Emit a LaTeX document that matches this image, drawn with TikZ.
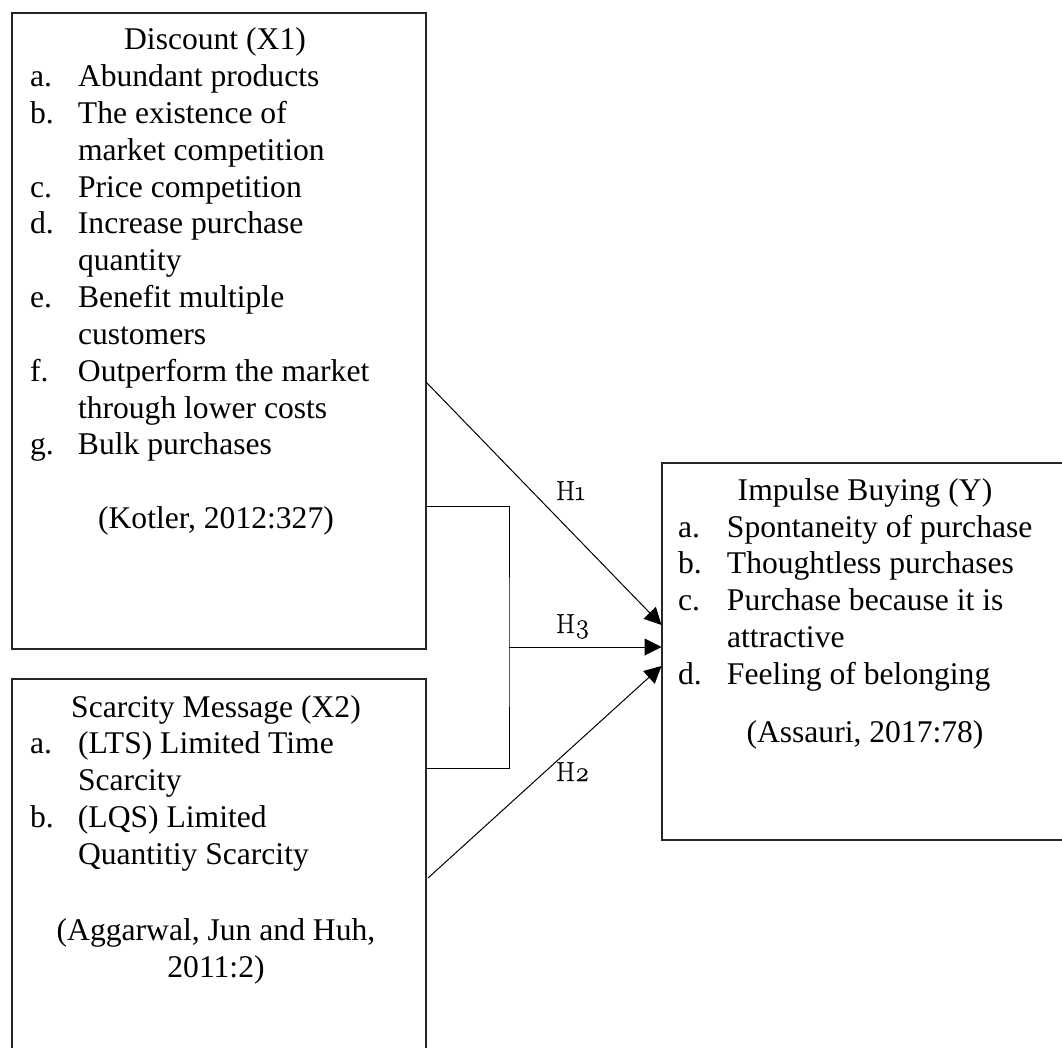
\documentclass[tikz,border=0pt]{standalone}
\usepackage{fontspec}
\setmainfont{Liberation Serif}
\newfontfamily\hfont{Latin Modern Roman}[Numbers=OldStyle,FakeBold=0.6]
\usetikzlibrary{arrows.meta,calc}
\newcommand{\lab}[1]{\makebox[48pt][l]{#1}}
\begin{document}
\begin{tikzpicture}[x=1pt,y=-1pt,
  box/.style={draw=black!85,line width=1.2pt,rectangle,inner sep=0pt,outer sep=0pt,anchor=north west},
  txt/.style={inner sep=0pt,outer sep=0pt,font=\fontsize{31.6}{36.8}\selectfont},
  hl/.style={inner sep=0pt,outer sep=0pt,anchor=base west,font=\hfont\fontsize{27.5}{30}\selectfont},
  con/.style={draw=black,line width=1pt},
  arr/.style={con,-{Triangle[length=17pt,width=17pt]}}]
\useasboundingbox (0,0) rectangle (1062,1048);
\clip (0,0) rectangle (1062,1048);
% boxes
\node[box,minimum width=414pt,minimum height=636pt] (x1) at (12,13) {};
\node[box,minimum width=414pt,minimum height=400pt] (x2) at (12,679) {};
\node[box,minimum width=406pt,minimum height=377pt] (y) at (662,463) {};
% X1 text
\node[txt,anchor=base] (x1t) at (215,50) {Discount (X1)};
\node[txt,anchor=base west] (x1a) at (30,86.8) {\lab{a.}Abundant products};
\node[txt,anchor=base west] (x1b) at (30,123.6) {\lab{b.}The existence of};
\node[txt,anchor=base west] (x1b2) at (78,160.4) {market competition};
\node[txt,anchor=base west] (x1c) at (30,197.2) {\lab{c.}Price competition};
\node[txt,anchor=base west] (x1d) at (30,234) {\lab{d.}Increase purchase};
\node[txt,anchor=base west] (x1d2) at (78,270.8) {quantity};
\node[txt,anchor=base west] (x1e) at (30,307.6) {\lab{e.}Benefit multiple};
\node[txt,anchor=base west] (x1e2) at (78,344.4) {customers};
\node[txt,anchor=base west] (x1f) at (30,381.2) {\lab{f.}Outperform the market};
\node[txt,anchor=base west] (x1f2) at (78,418) {through lower costs};
\node[txt,anchor=base west] (x1g) at (30,454.8) {\lab{g.}Bulk purchases};
\node[txt,anchor=base] (x1s) at (216,528.4) {(Kotler, 2012:327)};
% X2 text
\node[txt,anchor=base] (x2t) at (216,717) {Scarcity Message (X2)};
\node[txt,anchor=base west] (x2a) at (30,753.8) {\lab{a.}(LTS) Limited Time};
\node[txt,anchor=base west] (x2a2) at (78,790.6) {Scarcity};
\node[txt,anchor=base west] (x2b) at (30,827.4) {\lab{b.}(LQS) Limited};
\node[txt,anchor=base west] (x2b2) at (78,864.2) {Quantitiy Scarcity};
\node[txt,anchor=base] (x2s) at (216,940) {(Aggarwal, Jun and Huh,};
\node[txt,anchor=base] (x2s2) at (216,977) {2011:2)};
% Y text
\node[txt,anchor=base] (yt) at (865,500) {Impulse Buying (Y)};
\node[txt,anchor=base west] (ya) at (678,537) {\makebox[49pt][l]{a.}Spontaneity of purchase};
\node[txt,anchor=base west] (yb) at (678,573.5) {\makebox[49pt][l]{b.}Thoughtless purchases};
\node[txt,anchor=base west] (yc) at (678,610) {\makebox[49pt][l]{c.}Purchase because it is};
\node[txt,anchor=base west] (yc2) at (727,647) {attractive};
\node[txt,anchor=base west] (yd) at (678,684) {\makebox[49pt][l]{d.}Feeling of belonging};
\node[txt,anchor=base] (ys) at (865,742) {(Assauri, 2017:78)};
% connector coordinates
\coordinate (h1s) at ($(x1.north east)+(0,369)$);
\coordinate (h1e) at ($(y.north west)+(-0.5,162)$);
\coordinate (h3e) at ($(y.north west)+(-0.5,184)$);
\coordinate (h2e) at ($(y.north west)+(-0.5,203)$);
\coordinate (h2s) at ($(x2.north east)+(2,199)$);
\coordinate (b1) at ($(x1.north east)+(0,493)$);
\coordinate (b2) at ($(x2.north east)+(0,89)$);
\coordinate (bm) at ($(x1.north east)+(83,634)$);
% connectors
\draw[arr] (h1s) -- (h1e);
\draw[con] (b1) -| (bm) |- (b2);
\draw[arr] (bm) -- (h3e);
\draw[arr] (h2s) -- (h2e);
% labels
\node[hl] (H1) at (556,500) {H1};
\node[hl] (H3) at (556,633) {H3};
\node[hl] (H2) at (556,781) {H2};
\end{tikzpicture}
\end{document}
